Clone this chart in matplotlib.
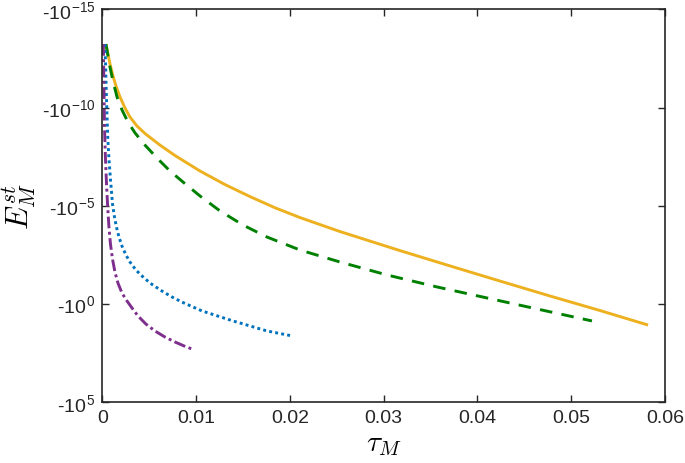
import numpy as np
import matplotlib.pyplot as plt
from matplotlib.ticker import FixedLocator, FuncFormatter, NullLocator

plt.rcParams['font.family'] = ['Liberation Sans', 'DejaVu Sans']
plt.rcParams['mathtext.fontset'] = 'cm'

# tau_M and log10(-E_M^st)
tau_yellow = [0.00037, 0.0008, 0.00112, 0.00144, 0.00187, 0.0024, 0.00293, 0.00368,
              0.00453, 0.00507, 0.00613, 0.00773, 0.0104, 0.01307, 0.01573, 0.0184,
              0.02107, 0.02533, 0.03173, 0.03707, 0.0424, 0.04773, 0.05307, 0.0582]
exp_yellow = [-13.24, -12.23, -11.62, -11.11, -10.55, -9.99, -9.53, -9.07,
              -8.69, -8.49, -8.10, -7.57, -6.78, -6.09, -5.48, -4.91,
              -4.41, -3.70, -2.73, -1.95, -1.18, -0.42, 0.32, 1.06]

tau_green = [0.00037, 0.0008, 0.00112, 0.00155, 0.00208, 0.00272, 0.00347, 0.00453,
             0.00592, 0.0072, 0.00859, 0.0104, 0.01253, 0.01499, 0.01755, 0.02107,
             0.02533, 0.03035, 0.03568, 0.04101, 0.04635, 0.05221]
exp_green = [-13.24, -12.07, -11.36, -10.55, -9.89, -9.27, -8.72, -8.10,
             -7.39, -6.78, -6.22, -5.51, -4.75, -4.03, -3.42, -2.76,
             -2.15, -1.49, -0.88, -0.32, 0.24, 0.85]

tau_blue = [0.00027, 0.00037, 0.00046, 0.00057, 0.00069, 0.00085, 0.00107, 0.00128,
            0.00149, 0.00176, 0.00208, 0.0025, 0.00293, 0.00357, 0.00421, 0.00507,
            0.00635, 0.00741, 0.00848, 0.01061, 0.01392, 0.01755, 0.02032]
exp_blue = [-13.24, -11.46, -9.94, -8.41, -7.39, -6.37, -5.10, -4.44,
            -3.93, -3.42, -2.96, -2.51, -2.15, -1.74, -1.44, -1.08,
            -0.67, -0.37, -0.11, 0.34, 0.85, 1.36, 1.62]

tau_purple = [0.00009, 0.00016, 0.00022, 0.00032, 0.00043, 0.00055, 0.00069, 0.00085,
              0.00107, 0.00133, 0.00165, 0.00208, 0.00261, 0.00315, 0.00379, 0.00464,
              0.0056, 0.00667, 0.00773, 0.00869, 0.00955]
exp_purple = [-13.24, -10.95, -8.92, -7.39, -6.12, -5.0, -3.93, -3.07,
              -2.30, -1.64, -1.08, -0.57, -0.17, 0.19, 0.60, 1.01,
              1.36, 1.67, 1.92, 2.12, 2.28]

xticks = [0, 0.01, 0.02, 0.03, 0.04, 0.05, 0.06]
yticks_exp = [-15, -10, -5, 0, 5]

fig = plt.figure(figsize=(6.85, 4.64), dpi=100)
ax = fig.add_axes([0.1496, 0.1304, 0.8212, 0.847])

# E is negative, so plot its magnitude on a log axis and flip it
def mag(e):
    return 10.0 ** np.array(e)

ax.plot(tau_yellow, mag(exp_yellow), color='#EDB120', lw=2.1, solid_capstyle='butt')
ax.plot(tau_green, mag(exp_green), color='#008000', lw=2.1, dashes=(4.3, 3.2))
ax.plot(tau_blue, mag(exp_blue), color='#0072BD', lw=2.1, dashes=(1, 1.1))
ax.plot(tau_purple, mag(exp_purple), color='#7E2F8E', lw=2.1, dashes=(4, 1.2, 1, 1.2))

ax.set_yscale('log')
ax.set_xlim(0, 0.06)
ax.set_ylim(1e5, 1e-15)

ax.xaxis.set_major_locator(FixedLocator(xticks))
ax.xaxis.set_major_formatter(FuncFormatter(lambda v, p: '0' if v == 0 else f'{v:g}'))
ax.yaxis.set_major_locator(FixedLocator([10.0 ** k for k in yticks_exp]))
ax.yaxis.set_minor_locator(NullLocator())
ax.yaxis.set_major_formatter(FuncFormatter(
    lambda v, p: '-10' + r'$^{\mathregular{%d}}$' % round(np.log10(v))))

for s in ax.spines.values():
    s.set_color('#262626')
    s.set_linewidth(1.2)
ax.tick_params(which='both', direction='in', top=True, right=True, length=5,
               width=1.0, color='#262626', labelcolor='#262626', labelsize=14, pad=5)

ax.set_xlabel(r'$\tau_M$', fontsize=21, labelpad=2)
ax.set_ylabel(r'$E_M^{st}$', fontsize=22, labelpad=2)

fig.savefig('out.png', dpi=100)
